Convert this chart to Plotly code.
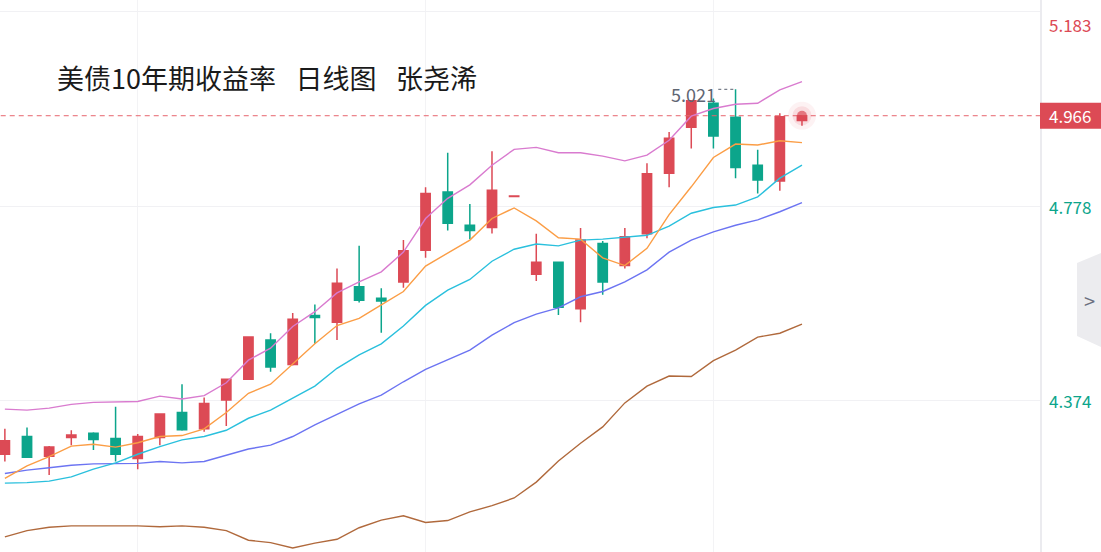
import plotly.graph_objects as go

title_text = "美债10年期收益率\u2002 日线图\u2002 张尧浠"

# daily candles, oldest -> newest
opens = [4.261, 4.298, 4.257, 4.296, 4.305, 4.294, 4.252, 4.296, 4.348, 4.314,
         4.374, 4.417, 4.499, 4.448, 4.550, 4.536, 4.610, 4.586, 4.620, 4.686,
         4.807, 4.738, 4.733, 4.798, 4.636, 4.661, 4.564, 4.700, 4.654, 4.720,
         4.846, 4.942, 4.992, 4.963, 4.863, 4.830, 4.956]
highs = [4.314, 4.317, 4.278, 4.311, 4.307, 4.360, 4.303, 4.346, 4.407, 4.379,
         4.418, 4.506, 4.513, 4.555, 4.573, 4.648, 4.695, 4.607, 4.707, 4.817,
         4.889, 4.782, 4.892, 4.799, 4.720, 4.662, 4.732, 4.705, 4.732, 4.867,
         4.932, 4.999, 5.002, 5.021, 4.895, 4.971, 4.967]
lows = [4.246, 4.253, 4.218, 4.280, 4.270, 4.246, 4.230, 4.280, 4.310, 4.308,
        4.320, 4.416, 4.433, 4.446, 4.491, 4.499, 4.577, 4.514, 4.608, 4.670,
        4.727, 4.709, 4.721, 4.798, 4.622, 4.551, 4.536, 4.593, 4.648, 4.711,
        4.817, 4.898, 4.898, 4.836, 4.804, 4.810, 4.945]
closes = [4.289, 4.255, 4.276, 4.301, 4.292, 4.261, 4.298, 4.345, 4.312, 4.367,
          4.417, 4.505, 4.443, 4.542, 4.546, 4.617, 4.582, 4.580, 4.685, 4.804,
          4.742, 4.727, 4.811, 4.799, 4.661, 4.567, 4.707, 4.620, 4.714, 4.845,
          4.919, 4.997, 4.924, 4.858, 4.832, 4.964, 4.966]

# overlay lines
boll_up = [4.355, 4.353, 4.357, 4.365, 4.369, 4.370, 4.371, 4.382, 4.376, 4.383,
           4.410, 4.457, 4.482, 4.527, 4.558, 4.597, 4.620, 4.641, 4.682, 4.752,
           4.794, 4.822, 4.863, 4.896, 4.900, 4.889, 4.889, 4.882, 4.872, 4.884,
           4.915, 4.965, 4.981, 4.990, 4.992, 5.020, 5.037]
ma5 = [4.211, 4.237, 4.256, 4.278, 4.282, 4.276, 4.285, 4.298, 4.300, 4.314,
       4.348, 4.388, 4.407, 4.450, 4.491, 4.529, 4.544, 4.572, 4.600, 4.653,
       4.680, 4.707, 4.752, 4.774, 4.747, 4.712, 4.709, 4.670, 4.654, 4.690,
       4.760, 4.818, 4.879, 4.907, 4.905, 4.914, 4.910]
ma10 = [4.201, 4.202, 4.205, 4.214, 4.230, 4.243, 4.261, 4.277, 4.291, 4.298,
        4.311, 4.336, 4.353, 4.378, 4.403, 4.440, 4.468, 4.491, 4.528, 4.571,
        4.603, 4.625, 4.663, 4.688, 4.699, 4.695, 4.707, 4.709, 4.713, 4.717,
        4.736, 4.763, 4.775, 4.780, 4.797, 4.836, 4.863]
ma20 = [4.221, 4.228, 4.233, 4.238, 4.241, 4.242, 4.242, 4.246, 4.243, 4.246,
        4.259, 4.272, 4.280, 4.298, 4.322, 4.344, 4.366, 4.384, 4.412, 4.438,
        4.458, 4.478, 4.509, 4.535, 4.553, 4.566, 4.589, 4.600, 4.620, 4.645,
        4.682, 4.707, 4.724, 4.738, 4.749, 4.766, 4.785]
ma60 = [4.089, 4.102, 4.109, 4.112, 4.112, 4.112, 4.112, 4.110, 4.112, 4.109,
        4.102, 4.082, 4.077, 4.066, 4.076, 4.084, 4.108, 4.124, 4.133, 4.119,
        4.123, 4.141, 4.154, 4.170, 4.203, 4.247, 4.284, 4.318, 4.368, 4.403,
        4.424, 4.423, 4.456, 4.478, 4.505, 4.513, 4.532]

y_ticks = [5.183, 4.778, 4.374]
y_tick_labels = ["5.183", "4.778", "4.374"]
x_grid = [6, 19, 32]

RED = "#dc4a55"
GREEN = "#0ca58b"
FONT = "Noto Sans CJK SC"
W, H, R = 1101, 552, 61
PW = W - R

x = list(range(len(closes)))
last = closes[-1]
top_i = max(range(len(highs)), key=lambda i: highs[i])

fig = go.Figure()

fig.add_trace(go.Candlestick(
    x=x, open=opens, high=highs, low=lows, close=closes,
    increasing=dict(line=dict(color=RED, width=1.5), fillcolor=RED),
    decreasing=dict(line=dict(color=GREEN, width=1.5), fillcolor=GREEN),
    whiskerwidth=0, showlegend=False, hoverinfo="skip"))

# current price dashed line
fig.add_trace(go.Scatter(x=[-1, 60], y=[last, last], mode="lines", showlegend=False,
                         line=dict(color="#e7646d", width=1, dash="5px,4px"), hoverinfo="skip"))

for vals, col in [(ma60, "#b0693c"), (ma20, "#6c74f2"), (ma10, "#2ac0dd"),
                  (ma5, "#fb9d45"), (boll_up, "#d97bcf")]:
    fig.add_trace(go.Scatter(x=x, y=vals, mode="lines", showlegend=False,
                             line=dict(color=col, width=1.4), hoverinfo="skip"))

# pulsing dot on the last close
fig.add_trace(go.Scatter(x=[x[-1]] * 3, y=[last] * 3, mode="markers",
                         marker=dict(size=[28, 19, 10], line_width=0,
                                     color=["rgba(220,74,85,0.10)", "rgba(220,74,85,0.18)", RED]),
                         showlegend=False, hoverinfo="skip"))

fig.add_shape(type="rect", xref="paper", x0=1, x1=W / PW, yref="y",
              y0=last - 0.027, y1=last + 0.027, fillcolor=RED, line_width=0, layer="above")
fig.add_annotation(xref="paper", x=1047 / PW, yref="y", y=last, text=f"{last:.3f}",
                   showarrow=False, xanchor="left", yanchor="middle",
                   font=dict(family=FONT, size=17, color="white"))

# right side labels
for v, t in zip(y_ticks, y_tick_labels):
    col = RED if v > last else GREEN
    fig.add_annotation(xref="paper", x=1047 / PW, yref="y", y=v, text=t,
                       showarrow=False, xanchor="left", yanchor="middle",
                       yshift=-13 if v == max(y_ticks) else 0,
                       font=dict(family=FONT, size=17, color=col))

# high marker
fig.add_shape(type="line", xref="x", x0=top_i - 0.78, x1=top_i, yref="y",
              y0=highs[top_i], y1=highs[top_i], line=dict(color="#7a808c", width=1.2, dash="dot"))
fig.add_annotation(xref="x", x=top_i - 0.8, yref="y", y=highs[top_i], text=f"{highs[top_i]:.3f}",
                   showarrow=False, xanchor="right", yanchor="middle", yshift=-5,
                   font=dict(family=FONT, size=18, color="#5f6673"))

# title
fig.add_annotation(xref="paper", x=55 / PW, yref="paper", y=1 - 77 / H, text=title_text,
                   showarrow=False, xanchor="left", yanchor="middle",
                   font=dict(family=FONT, size=27, color="#1a1a1a"))

# collapse tab on the right edge
fig.add_shape(type="path", xref="paper", yref="paper", layer="above",
              path=f"M {W / PW},{1 - 253 / H} L {1077 / PW},{1 - 263 / H} L {1077 / PW},{1 - 336 / H} "
                   f"L {W / PW},{1 - 347 / H} Z",
              fillcolor="#ececef", line_width=0)
fig.add_annotation(xref="paper", x=1089 / PW, yref="paper", y=1 - 300 / H, text="&gt;",
                   showarrow=False, xanchor="center", yanchor="middle",
                   font=dict(family=FONT, size=20, color="#6b7080"))

fig.update_layout(
    width=W, height=H, margin=dict(l=0, r=R, t=0, b=0),
    plot_bgcolor="white", paper_bgcolor="white", boxgap=0.4,
    xaxis=dict(range=[-0.22, 46.75], tickvals=x_grid, showticklabels=False,
               showgrid=True, gridcolor="#f3f3f5", gridwidth=1, zeroline=False,
               rangeslider=dict(visible=False), fixedrange=True),
    yaxis=dict(range=[4.0575, 5.207], tickvals=y_ticks, showticklabels=False,
               side="right", showgrid=True, gridcolor="#f1f1f4", gridwidth=1,
               zeroline=False, showline=True, linecolor="#ebebef", linewidth=1.5),
)

# the page body has a default 8px margin; drop it so the figure sits at 0,0
fig.write_html("out.html", config=dict(displayModeBar=False),
               post_script="document.body.style.margin='0';")
